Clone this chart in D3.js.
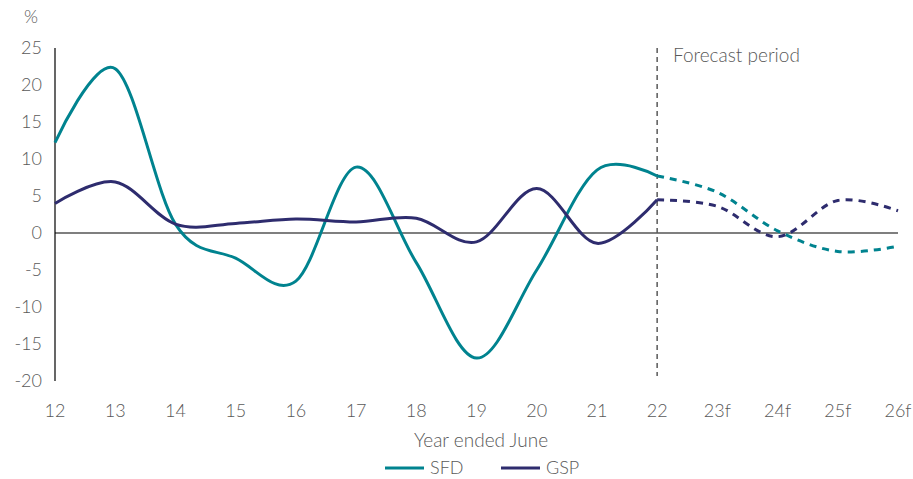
<!DOCTYPE html>
<html>
<head>
<meta charset="utf-8">
<script src="https://cdn.jsdelivr.net/npm/d3@7"></script>
<style>
  body { margin: 0; background: #fff; }
  text { font-family: Lato, "Open Sans", sans-serif; font-weight: 300; fill: #595959; }
</style>
</head>
<body>
<div id="chart"></div>
<script>
// categories (year ended June)
var years = ["12", "13", "14", "15", "16", "17", "18", "19", "20", "21", "22", "23f", "24f", "25f", "26f"];
// actuals run to "22", forecasts from "22" on
var sfdActual = [12.2, 22.2, 1.2, -3.4, -6.5, 8.9, -4.0, -16.9, -5.0, 8.5, 7.7];
var gspActual = [4.0, 6.9, 1.2, 1.3, 1.9, 1.5, 2.0, -1.2, 6.0, -1.4, 4.5];
var sfdForecast = [7.7, 5.5, 0.3, -2.5, -1.8];
var gspForecast = [4.5, 3.6, -0.5, 4.4, 3.0];
var yTicks = [-20, -15, -10, -5, 0, 5, 10, 15, 20, 25];

var teal = "#00838f", navy = "#2e2c6e";

var W = 913, H = 479;
var svg = d3.select("#chart").append("svg")
  .attr("width", W).attr("height", H);

var x = d3.scalePoint().domain(years).range([55, 898]);
var y = d3.scaleLinear().domain([-20, 25]).range([381, 48]);

// y axis line + labels
svg.append("line")
  .attr("x1", 55).attr("x2", 55)
  .attr("y1", y(25)).attr("y2", y(-20))
  .attr("stroke", "#000").attr("stroke-width", 1.2);

svg.selectAll(".ylab")
  .data(yTicks)
  .enter().append("text")
  .attr("x", 42)
  .attr("y", function(d) { return y(d); })
  .attr("dy", "0.35em")
  .attr("text-anchor", "end")
  .style("font-size", "18px")
  .text(function(d) { return d; });

svg.append("text")
  .attr("x", 31).attr("y", 23)
  .attr("text-anchor", "middle")
  .style("font-size", "18px")
  .text("%");

// zero line
svg.append("line")
  .attr("x1", x("12")).attr("x2", x("26f"))
  .attr("y1", y(0)).attr("y2", y(0))
  .attr("stroke", "#000").attr("stroke-width", 1.2);

// x labels
svg.selectAll(".xlab")
  .data(years)
  .enter().append("text")
  .attr("x", function(d) { return x(d); })
  .attr("y", 417)
  .attr("text-anchor", "middle")
  .style("font-size", "18px")
  .text(function(d) { return d; });

svg.append("text")
  .attr("x", 481).attr("y", 447)
  .attr("text-anchor", "middle")
  .style("font-size", "19px")
  .text("Year ended June");

// forecast divider
svg.append("line")
  .attr("x1", x("22")).attr("x2", x("22"))
  .attr("y1", y(25)).attr("y2", 376)
  .attr("stroke", "#595959").attr("stroke-width", 1.5)
  .attr("stroke-dasharray", "5,4");

svg.append("text")
  .attr("x", 673).attr("y", 62)
  .style("font-size", "19px")
  .text("Forecast period");

var line = d3.line()
  .x(function(d) { return x(d.k); })
  .y(function(d) { return y(d.v); })
  .curve(d3.curveCardinal.tension(0));

function pairs(keys, vals) {
  return vals.map(function(v, i) { return { k: keys[i], v: v }; });
}
var actYears = years.slice(0, 11), fcYears = years.slice(10);

var series = [
  { data: pairs(actYears, sfdActual), color: teal, dash: null },
  { data: pairs(actYears, gspActual), color: navy, dash: null },
  { data: pairs(fcYears, sfdForecast), color: teal, dash: "7,6" },
  { data: pairs(fcYears, gspForecast), color: navy, dash: "7,6" }
];

svg.selectAll(".series")
  .data(series)
  .enter().append("path")
  .attr("d", function(d) { return line(d.data); })
  .attr("fill", "none")
  .attr("stroke", function(d) { return d.color; })
  .attr("stroke-width", 3)
  .attr("stroke-dasharray", function(d) { return d.dash; });

// legend
var legend = [{ name: "SFD", color: teal, x: 385 }, { name: "GSP", color: navy, x: 501 }];
var lg = svg.selectAll(".legend").data(legend).enter().append("g");
lg.append("line")
  .attr("x1", function(d) { return d.x; })
  .attr("x2", function(d) { return d.x + 39; })
  .attr("y1", 468).attr("y2", 468)
  .attr("stroke", function(d) { return d.color; })
  .attr("stroke-width", 3);
lg.append("text")
  .attr("x", function(d) { return d.x + 45; })
  .attr("y", 474)
  .style("font-size", "18px")
  .text(function(d) { return d.name; });
</script>
</body>
</html>
